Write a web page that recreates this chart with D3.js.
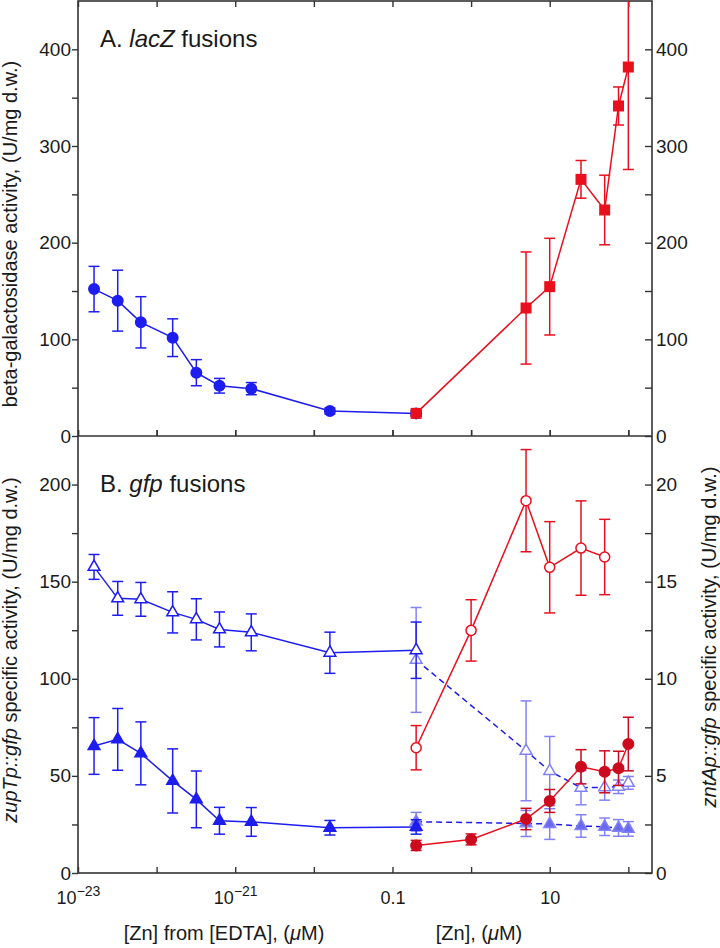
<!DOCTYPE html>
<html><head><meta charset="utf-8">
<script src="https://cdn.jsdelivr.net/npm/d3@7"></script>
<style>
html,body{margin:0;padding:0;background:#fff;}
svg{display:block;font-family:"Liberation Sans",Arial,Helvetica,sans-serif;}
</style></head>
<body>
<svg id="chart" width="720" height="948"></svg>
<script>
// ---------------- data ----------------
// x values: Zn from EDTA (µM) and added Zn (µM)
const edtaZn = [1.6e-23, 3.2e-23, 6.3e-23, 1.6e-22, 3.2e-22, 6.3e-22, 1.6e-21, 1.6e-20];
const znAdded = [0.2, 5, 10, 25, 50, 75, 100];
const znAddedB = [0.2, 1, 5, 10, 25, 50, 75, 100];
const znBase = 0.2;

// Panel A: lacZ fusions (U/mg d.w.)
const lacZEdtaMean = [152, 140, 117.6, 101.7, 65.5, 52, 49, 25.9];
const lacZEdtaSd   = [23.5, 31.5, 26.5, 19.5, 13.5, 7.6, 6.3, 3.1];
const lacZBaseMean = 23.4, lacZBaseSd = 3;
const lacZZnMean = [23.4, 132.4, 154.5, 265.5, 233.8, 341.4, 381.7];
const lacZZnSd   = [3, 58, 50, 19.5, 36, 19.7, 106];

// Panel B: gfp fusions
// zupTp::gfp (left axis)
const zupOpenEdtaMean = [157.6, 141.4, 140.9, 134.2, 130.6, 125.4, 123.9, 113.4];
const zupOpenEdtaSd   = [6.4, 8.7, 8.7, 10.6, 10.6, 9, 9.5, 10.6];
const zupOpenBaseMean = 114.7, zupOpenBaseSd = 14.5;
const zupFilledEdtaMean = [65.4, 68.8, 61.6, 47.4, 37.9, 26.9, 26.3, 23.3];
const zupFilledEdtaSd   = [14.6, 15.9, 16.2, 16.5, 14.6, 6.9, 7.4, 3.75];
const zupFilledBaseMean = 23.7, zupFilledBaseSd = 3.7;
const zupOpenZnMean = [109.7, 62.9, 52.5, 43.9, 44.1, 44.4, 46.4];
const zupOpenZnSd   = [27, 25.7, 17.8, 8.8, 6.6, 3.5, 3.3];
const zupFilledZnMean = [26.4, 25.5, 25.2, 24.2, 23.8, 23.2, 22.7];
const zupFilledZnSd   = [4.8, 6.7, 7.9, 5.8, 4.5, 4.3, 3.75];
// zntAp::gfp (right axis)
const zntOpenZn = [0.2, 1, 5, 10, 25, 50];
const zntOpenMean = [6.45, 12.49, 19.17, 15.74, 16.73, 16.27];
const zntOpenSd   = [1.14, 1.58, 2.63, 2.35, 2.43, 1.94];
const zntFilledMean = [1.42, 1.73, 2.78, 3.71, 5.47, 5.21, 5.39, 6.64];
const zntFilledSd   = [0.26, 0.28, 0.55, 0.59, 0.88, 1.08, 0.88, 1.38];

// ticks
const edtaTicks = [1e-23, 1e-22, 1e-21, 1e-20];
const edtaLabels = {"1e-23": "\u221223", "1e-21": "\u221221"};
const znTicks = [0.1, 1, 10, 100];
const znLabels = {"0.1": "0.1", "10": "10"};
const yATicks = [0, 100, 200, 300, 400];
const yAMinor = [50, 150, 250, 350];
const yBTicks = [0, 50, 100, 150, 200];
const yBMinor = [25, 75, 125, 175];
const yBrTicks = [0, 5, 10, 15, 20];
const yBrMinor = [2.5, 7.5, 12.5, 17.5];

// ---------------- layout ----------------
const L = 78, R = 652, T = 1, M = 436, B = 873;
const BLUE = "#1d1df0", LIGHT = "#8282f6", LIGHTFILL = "#6a6aee", RED = "#e8101c", DRED = "#cc0a1e";
const AX = "#333";

const nDec = 4 + Math.log10(2000);
const dec = (R - L) / nDec;
const xE = d3.scaleLog().domain([1e-23, 1e-19]).range([L, L + 4 * dec]);
const xZ = d3.scaleLog().domain([0.1, 200]).range([L + 4 * dec, R]);
const yA = d3.scaleLinear().domain([0, 450]).range([M, T]);
const yB = d3.scaleLinear().domain([0, 225]).range([B, M]);
const yBr = d3.scaleLinear().domain([0, 22.5]).range([B, M]);

const svg = d3.select("#chart");
const defs = svg.append("defs");
defs.append("clipPath").attr("id", "clipA").append("rect").attr("x", L).attr("y", T).attr("width", R - L).attr("height", M - T);
defs.append("clipPath").attr("id", "clipB").append("rect").attr("x", L).attr("y", M).attr("width", R - L).attr("height", B - M);

// ---------------- axes ----------------
function styleAxis(g, fs) {
  g.select(".domain").remove();
  g.selectAll("line").attr("stroke", AX).attr("stroke-width", 1.4);
  g.selectAll("text").attr("fill", "#1a1a1a").attr("font-size", fs).attr("font-family", null);
}
function yAxes(scale, major, minor) {
  const gl = svg.append("g").attr("transform", `translate(${L},0)`)
    .call(d3.axisLeft(scale).tickValues(major).tickSize(6).tickPadding(1).tickFormat(d3.format("d")));
  styleAxis(gl, 19);
  const gl2 = svg.append("g").attr("transform", `translate(${L},0)`)
    .call(d3.axisLeft(scale).tickValues(minor).tickSize(6).tickFormat(""));
  styleAxis(gl2, 19);
}
yAxes(yA, yATicks, yAMinor);
yAxes(yB, yBTicks, yBMinor);
// right axes: ticks pointing left
const grA = svg.append("g").attr("transform", `translate(${R},0)`)
  .call(d3.axisRight(yA).tickValues(yATicks).tickSize(-7).tickPadding(4).tickFormat(d3.format("d")));
styleAxis(grA, 19);
svg.append("g").attr("transform", `translate(${R},0)`)
  .call(d3.axisRight(yA).tickValues(yAMinor).tickSize(-7).tickFormat("")).call(g => styleAxis(g, 19));
const grB = svg.append("g").attr("transform", `translate(${R},0)`)
  .call(d3.axisRight(yBr).tickValues(yBrTicks).tickSize(-7).tickPadding(4).tickFormat(d3.format("d")));
styleAxis(grB, 19);
svg.append("g").attr("transform", `translate(${R},0)`)
  .call(d3.axisRight(yBr).tickValues(yBrMinor).tickSize(-7).tickFormat("")).call(g => styleAxis(g, 19));

// x ticks: top (down), middle (both), bottom (up + labels)
[xE, xZ].forEach((sc, k) => {
  const vals = k === 0 ? edtaTicks : znTicks;
  svg.append("g").attr("transform", `translate(0,${T})`)
    .call(d3.axisTop(sc).tickValues(vals).tickSize(-6).tickFormat("")).call(g => styleAxis(g, 18));
  svg.append("g").attr("transform", `translate(0,${M})`)
    .call(d3.axisTop(sc).tickValues(vals).tickSize(6).tickFormat("")).call(g => styleAxis(g, 18));
  svg.append("g").attr("transform", `translate(0,${M})`)
    .call(d3.axisBottom(sc).tickValues(vals).tickSize(-6).tickFormat("")).call(g => styleAxis(g, 18));
  const gb = svg.append("g").attr("transform", `translate(0,${B})`)
    .call(d3.axisBottom(sc).tickValues(vals).tickSize(-6).tickPadding(18).tickFormat(""));
  styleAxis(gb, 18);
  gb.selectAll(".tick").each(function(d) {
    const key = String(d);
    const t = d3.select(this).select("text");
    if (k === 0 && edtaLabels[key]) {
      t.text(null);
      t.append("tspan").text("10");
      t.append("tspan").attr("font-size", 14).attr("dy", "-0.55em").text(edtaLabels[key]);
    } else if (k === 1 && znLabels[key]) {
      t.text(znLabels[key]);
    }
  });
});

// frame
svg.append("rect").attr("x", L).attr("y", T).attr("width", R - L).attr("height", B - T)
  .attr("fill", "none").attr("stroke", AX).attr("stroke-width", 1.6);
svg.append("line").attr("x1", L).attr("x2", R).attr("y1", M).attr("y2", M)
  .attr("stroke", AX).attr("stroke-width", 1.6);

// ---------------- series helpers ----------------
function pts(xs, xsc, means, sds, ysc) {
  return xs.map((x, i) => ({x: xsc(x), y: ysc(means[i]), lo: ysc(means[i] - sds[i]), hi: ysc(means[i] + sds[i])}));
}
function errBars(g, data, color, w) {
  const eg = g.append("g").attr("stroke", color).attr("stroke-width", w || 1.5).attr("fill", "none");
  data.forEach(d => {
    eg.append("line").attr("x1", d.x).attr("x2", d.x).attr("y1", d.lo).attr("y2", d.hi);
    eg.append("line").attr("x1", d.x - 5.5).attr("x2", d.x + 5.5).attr("y1", d.lo).attr("y2", d.lo);
    eg.append("line").attr("x1", d.x - 5.5).attr("x2", d.x + 5.5).attr("y1", d.hi).attr("y2", d.hi);
  });
}
function lineOf(g, data, color, dash) {
  g.append("path").datum(data).attr("d", d3.line().x(d => d.x).y(d => d.y))
    .attr("fill", "none").attr("stroke", color).attr("stroke-width", 1.5)
    .attr("stroke-dasharray", dash || null);
}
function markers(g, data, type, fill, stroke, sizeOverride) {
  const sym = {circle: d3.symbolCircle, square: d3.symbolSquare, triangle: d3.symbolTriangle}[type];
  const size = sizeOverride || {circle: 113, square: 121, triangle: 60}[type];
  g.selectAll(null).data(data).enter().append("path")
    .attr("transform", d => `translate(${d.x},${d.y})`)
    .attr("d", d3.symbol().type(sym).size(size))
    .attr("fill", fill).attr("stroke", stroke).attr("stroke-width", 1.5);
}

// ---------------- Panel A ----------------
const gA = svg.append("g").attr("clip-path", "url(#clipA)");
const blueA = pts(edtaZn, xE, lacZEdtaMean, lacZEdtaSd, yA)
  .concat(pts([znBase], xZ, [lacZBaseMean], [lacZBaseSd], yA));
const redA = pts(znAdded, xZ, lacZZnMean, lacZZnSd, yA);
lineOf(gA, blueA, BLUE);
errBars(gA, blueA, BLUE);
markers(gA, blueA, "circle", BLUE, "none");
lineOf(gA, redA, RED);
errBars(gA, redA, RED);
markers(gA, redA, "square", RED, "none");

// ---------------- Panel B ----------------
const gB = svg.append("g").attr("clip-path", "url(#clipB)");
const lOpen = pts(znAdded, xZ, zupOpenZnMean, zupOpenZnSd, yB);
const lFill = pts(znAdded, xZ, zupFilledZnMean, zupFilledZnSd, yB);
errBars(gB, lOpen, LIGHT);
errBars(gB, lFill, LIGHT);
lineOf(gB, lOpen, BLUE, "6,4");
lineOf(gB, lFill, BLUE, "6,4");
markers(gB, lOpen, "triangle", "#fff", LIGHT);
markers(gB, lFill, "triangle", LIGHTFILL, LIGHT);

const bOpen = pts(edtaZn, xE, zupOpenEdtaMean, zupOpenEdtaSd, yB)
  .concat(pts([znBase], xZ, [zupOpenBaseMean], [zupOpenBaseSd], yB));
const bFill = pts(edtaZn, xE, zupFilledEdtaMean, zupFilledEdtaSd, yB)
  .concat(pts([znBase], xZ, [zupFilledBaseMean], [zupFilledBaseSd], yB));
lineOf(gB, bOpen, BLUE);
errBars(gB, bOpen, BLUE);
markers(gB, bOpen, "triangle", "#fff", BLUE);
lineOf(gB, bFill, BLUE);
errBars(gB, bFill, BLUE);
markers(gB, bFill, "triangle", BLUE, BLUE);

const rOpen = pts(zntOpenZn, xZ, zntOpenMean, zntOpenSd, yBr);
const rFill = pts(znAddedB, xZ, zntFilledMean, zntFilledSd, yBr);
lineOf(gB, rOpen, RED);
errBars(gB, rOpen, RED);
markers(gB, rOpen, "circle", "#fff", RED, 80);
lineOf(gB, rFill, RED);
errBars(gB, rFill, DRED);
markers(gB, rFill, "circle", DRED, "none");

// ---------------- text ----------------
const txt = svg.append("g").attr("fill", "#1a1a1a");
const pa = txt.append("text").attr("x", 100).attr("y", 47).attr("font-size", 24);
pa.append("tspan").text("A. ");
pa.append("tspan").attr("font-style", "italic").text("lacZ");
pa.append("tspan").text(" fusions");
const pb = txt.append("text").attr("x", 100).attr("y", 492).attr("font-size", 24);
pb.append("tspan").text("B. ");
pb.append("tspan").attr("font-style", "italic").text("gfp");
pb.append("tspan").text(" fusions");

txt.append("text").attr("transform", "translate(17,234) rotate(-90)").attr("text-anchor", "middle")
  .attr("font-size", 20).text("beta-galactosidase activity, (U/mg d.w.)");
const tB = txt.append("text").attr("transform", "translate(17,650) rotate(-90)").attr("text-anchor", "middle").attr("font-size", 20);
tB.append("tspan").attr("font-style", "italic").text("zupTp::gfp");
tB.append("tspan").text(" specific activity, (U/mg d.w.)");
const tR = txt.append("text").attr("transform", "translate(716,637) rotate(-90)").attr("text-anchor", "middle").attr("font-size", 20);
tR.append("tspan").attr("font-style", "italic").text("zntAp::gfp");
tR.append("tspan").text(" specific activity, (U/mg d.w.)");

const xt1 = txt.append("text").attr("x", 224).attr("y", 940).attr("text-anchor", "middle").attr("font-size", 20);
xt1.append("tspan").text("[Zn] from [EDTA], (");
xt1.append("tspan").attr("font-style", "italic").text("\u03BC");
xt1.append("tspan").text("M)");
const xt2 = txt.append("text").attr("x", 479).attr("y", 940).attr("text-anchor", "middle").attr("font-size", 20);
xt2.append("tspan").text("[Zn], (");
xt2.append("tspan").attr("font-style", "italic").text("\u03BC");
xt2.append("tspan").text("M)");
</script>
</body></html>
